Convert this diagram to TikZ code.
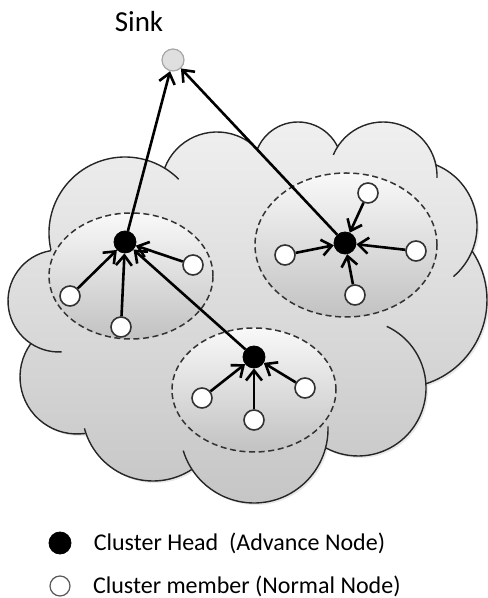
\documentclass[tikz,border=0pt]{standalone}
\usepackage{fontspec}
\setmainfont{Carlito}
\usetikzlibrary{positioning, arrows.meta, shadows}

\begin{document}
\begin{tikzpicture}[
    x=0.5pt, y=0.5pt,
    >={Straight Barb[length=5pt, width=8pt]},
    font=\fontsize{12}{14}\selectfont,
    head/.style={circle, fill=black, draw=black, minimum size=11pt, inner sep=0pt},
    member/.style={circle, fill=white, draw=black!80, line width=0.8pt, minimum size=10pt, inner sep=0pt},
    sinknode/.style={circle, fill=gray!25, draw=gray!70, line width=0.6pt, minimum size=11pt, inner sep=0pt},
    cluster/.style={dash pattern=on 3pt off 1.8pt, line width=0.75pt, draw=black!80, top color=gray!5, bottom color=gray!48},
    cloudbody/.style={top color=gray!12, bottom color=gray!45},
    cloudline/.style={draw=black!85, line width=0.7pt},
    arrow/.style={->, line width=1.3pt, draw=black}
]
\useasboundingbox (0,0) rectangle (487,598);

% Cloud
\path[cloudbody, drop shadow={opacity=0.18, shadow xshift=1pt, shadow yshift=-1pt}]
    (33,248) -- (72,166) -- (188,140) -- (330,151) -- (425,211) -- (472,340)
    -- (437,426) -- (335,448) -- (257,446) -- (170,430) -- (52,348) -- cycle
    (125,365) circle [radius=76]  (217,410) circle [radius=56]
    (298,432) circle [radius=44]  (383,422) circle [radius=54]
    (411,372) circle [radius=66]  (399,298) circle [radius=88]
    (358,210) circle [radius=68]  (254,169) circle [radius=74]
    (153,188) circle [radius=71]  (77,221) circle [radius=57]
    (59,297) circle [radius=51];
\foreach \cx/\cy/\r/\a/\b in {125/365/76/193/45, 217/410/56/159/34, 298/432/44/157/26,
    383/422/54/157/-2, 411/372/66/68/-50, 399/298/88/34/-72, 358/210/68/65/-118,
    254/169/74/2/-163, 153/188/71/-165/-57, 77/221/57/144/278, 59/297/51/99/273}
    \draw[cloudline] (\cx,\cy) ++(\a:\r) arc [start angle=\a, end angle=\b, radius=\r];

% Clusters
\path[cluster] (131,322) ellipse [x radius=82, y radius=63];
\path[cluster] (346,353) ellipse [x radius=91, y radius=72];
\path[cluster] (254,208) ellipse [x radius=82, y radius=62];

% Nodes
\node[sinknode] (sink) at (173,538) {};
\node[inner sep=0pt, above=8pt of sink, xshift=-17pt, font=\fontsize{14.5}{16}\selectfont] (sinkLabel) {Sink};

\node[head] (headL) at (125,356) {};
\node[member] (l1) at (70,302) {};
\node[member] (l2) at (121,271) {};
\node[member] (l3) at (193,333) {};

\node[head] (headR) at (345,355) {};
\node[member] (r1) at (368,405) {};
\node[member] (r2) at (285,343) {};
\node[member] (r3) at (416,347) {};
\node[member] (r4) at (355,303) {};

\node[head] (headB) at (254,241) {};
\node[member] (b1) at (202,200) {};
\node[member] (b2) at (254,178) {};
\node[member] (b3) at (305,210) {};

% Edges
\draw[arrow] (headL) -- (sink);
\draw[arrow] (headR) -- (sink);
\draw[arrow] (headB) -- (headL);
\foreach \m in {l1, l2, l3} \draw[arrow] (\m) -- (headL);
\foreach \m in {r1, r2, r3, r4} \draw[arrow] (\m) -- (headR);
\foreach \m in {b1, b2, b3} \draw[arrow] (\m) -- (headB);

% Legend
\node[head] (legHead) at (60,55) {};
\node[inner sep=0pt, right=11pt of legHead] (legHeadText) {Cluster Head\ \ (Advance Node)};
\node[member, draw=black!65, line width=0.6pt] (legMember) at (60,12) {};
\node[inner sep=0pt, right=11pt of legMember] (legMemberText) {Cluster member (Normal Node)};
\end{tikzpicture}
\end{document}
